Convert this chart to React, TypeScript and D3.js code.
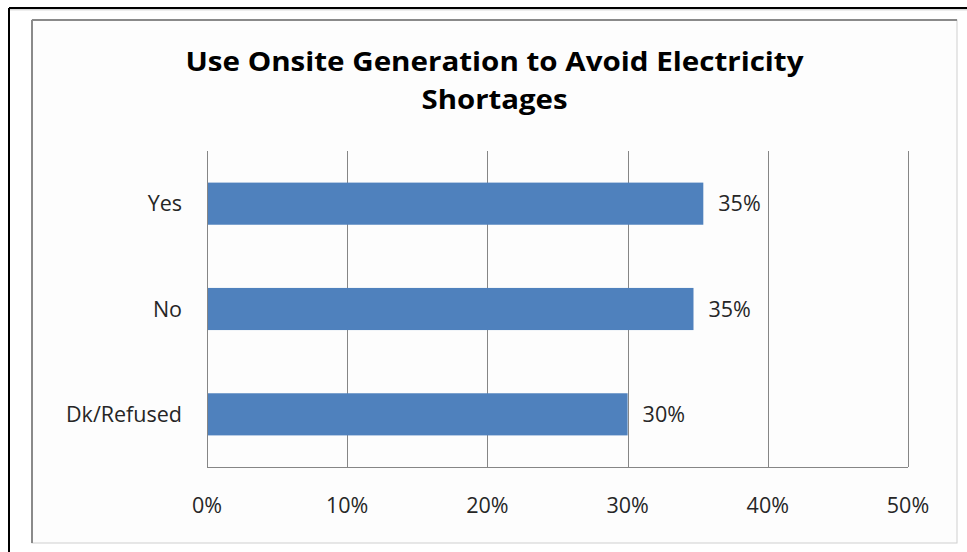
import React from "react";
import * as d3 from "d3";

// Survey responses: share of respondents (%)
const categories = ["Yes", "No", "Dk/Refused"];
const values = [35.4, 34.7, 30.0];
const xTicks = [0, 10, 20, 30, 40, 50];
const titleLines = ["Use Onsite Generation to Avoid Electricity", "Shortages"];
const titleWidths = [618, 146];

const W = 967;
const H = 552;
const FONT = "'Open Sans', 'Noto Sans', sans-serif";

export default function App() {
  const x = d3.scaleLinear().domain([0, 50]).range([207, 908]);
  const y = d3
    .scaleBand<string>()
    .domain(categories)
    .range([151, 467])
    .paddingInner(0.6)
    .paddingOuter(0.3);
  const fmt = (v: number) => d3.format(".0f")(v) + "%";
  const [top, bottom] = y.range();

  return (
    <div style={{ position: "fixed", left: 0, top: 0, width: W, height: H, background: "#fff" }}>
      <svg width={W} height={H} style={{ display: "block", fontFamily: FONT }}>
        {/* outer frame */}
        <line x1={9} y1={8} x2={W} y2={8} stroke="#000" strokeWidth={2} />
        <line x1={9} y1={8} x2={9} y2={H} stroke="#000" strokeWidth={2} />
        <line x1={10} y1={9.8} x2={W} y2={9.8} stroke="#bbb" strokeWidth={0.8} />

        {/* chart area frame */}
        <rect x={32} y={20} width={925} height={523} fill="#fdfdfd" stroke="#cfcfcf" strokeWidth={1} />
        <line x1={32} y1={20} x2={957} y2={20} stroke="#8a8a8a" strokeWidth={2} />
        <line x1={32} y1={20} x2={32} y2={543} stroke="#8a8a8a" strokeWidth={2} />

        {/* title */}
        {titleLines.map((t, i) => (
          <text
            key={t}
            x={494.5}
            y={71 + i * 38}
            textAnchor="middle"
            fontSize={27}
            fontWeight="bold"
            fill="#000"
            textLength={titleWidths[i]}
            lengthAdjust="spacingAndGlyphs"
          >
            {t}
          </text>
        ))}

        {/* vertical gridlines */}
        {xTicks.map((t) => (
          <line
            key={"g" + t}
            x1={Math.round(x(t)) + 0.5}
            x2={Math.round(x(t)) + 0.5}
            y1={top}
            y2={bottom}
            stroke="#868686"
            strokeWidth={1}
          />
        ))}
        {/* baseline axis */}
        <line x1={x(0)} x2={x(50)} y1={bottom + 0.5} y2={bottom + 0.5} stroke="#868686" strokeWidth={1} />

        {/* bars */}
        {categories.map((c, i) => (
          <rect
            key={c}
            x={x(0) + 1}
            y={y(c)}
            width={x(values[i]) - x(0) - 1}
            height={y.bandwidth()}
            fill="#4F81BD"
          />
        ))}

        {/* value labels */}
        {categories.map((c, i) => (
          <text
            key={"v" + c}
            x={x(values[i]) + 15}
            y={(y(c) as number) + y.bandwidth() / 2}
            dy="0.35em"
            fontSize={21.5}
            fill="#262626"
          >
            {fmt(values[i])}
          </text>
        ))}

        {/* category labels */}
        {categories.map((c) => (
          <text
            key={"c" + c}
            x={182}
            y={(y(c) as number) + y.bandwidth() / 2}
            dy="0.35em"
            textAnchor="end"
            fontSize={21.5}
            fill="#262626"
          >
            {c}
          </text>
        ))}

        {/* x tick labels */}
        {xTicks.map((t) => (
          <text key={"t" + t} x={x(t)} y={513} textAnchor="middle" fontSize={21.5} fill="#262626">
            {t}%
          </text>
        ))}
      </svg>
    </div>
  );
}
